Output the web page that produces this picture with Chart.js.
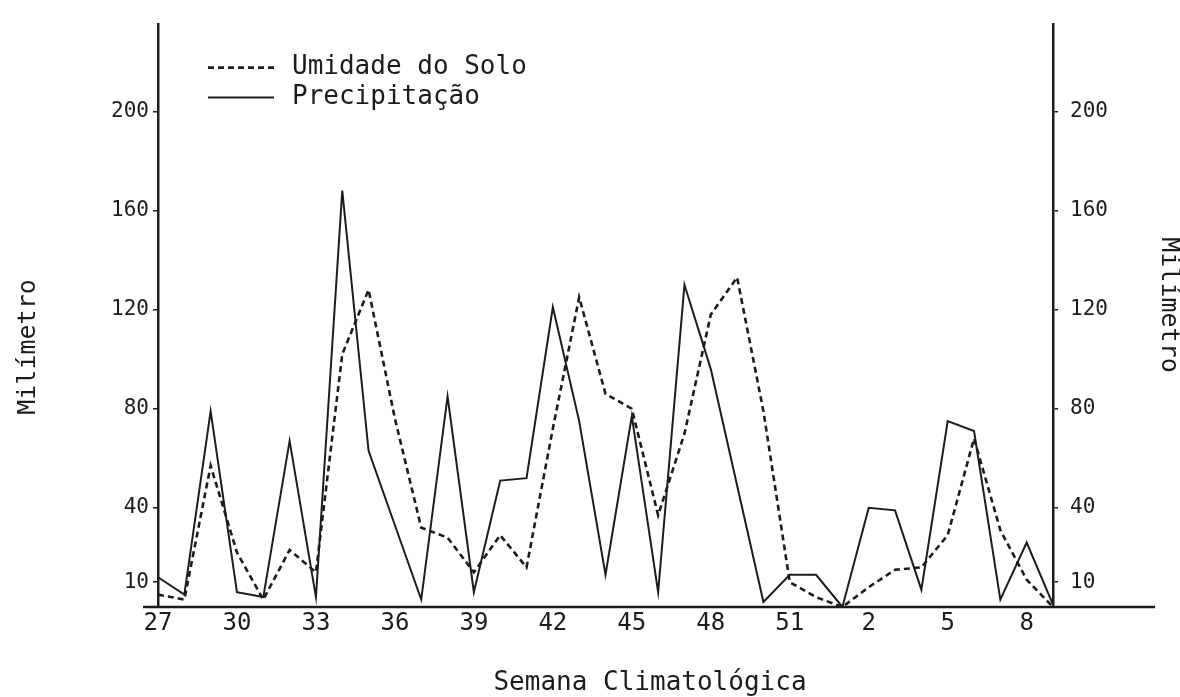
<!DOCTYPE html>
<html>
<head>
<meta charset="utf-8">
<script src="https://cdn.jsdelivr.net/npm/chart.js@4.4.1/dist/chart.umd.min.js"></script>
<style>
  html, body { margin: 0; padding: 0; background: #fff; }
  #wrap { width: 1180px; height: 697px; }
</style>
</head>
<body>
<div id="wrap"><canvas id="chart" width="1180" height="697"></canvas></div>
<script>
// Semanas climatológicas (27..52, 1..9)
const weeks = [27, 28, 29, 30, 31, 32, 33, 34, 35, 36, 37, 38, 39, 40, 41, 42, 43, 44,
  45, 46, 47, 48, 49, 50, 51, 52, 1, 2, 3, 4, 5, 6, 7, 8, 9];

// values, in mm
const precipitacao = [12, 5, 79, 6, 4, 67, 4, 168, 63, 33, 3, 85, 6, 51, 52, 121, 75, 13,
  77, 6, 130, 96, 49, 2, 13, 13, 0, 40, 39, 7, 75, 71, 3, 26, 1];
const umidadeSolo = [5, 3, 57, 22, 3, 23, 14, 102, 128, 76, 32, 28, 14, 29, 16, 72, 125, 86,
  80, 37, 70, 118, 133, 79, 10, 4, 0, 8, 15, 16, 29, 68, 31, 11, 0];

const yTicks = [10, 40, 80, 120, 160, 200];
const xLabelStep = 3;

const INK = '#1c1c1c';
const FONT = '"DejaVu Sans Mono", "Liberation Mono", monospace';

// legend inside the plot area, drawn from the datasets themselves
const innerLegend = {
  id: 'innerLegend',
  afterDraw(chart) {
    const { ctx, chartArea } = chart;
    const x0 = chartArea.left + 50;
    ctx.save();
    ctx.font = '26px ' + FONT;
    ctx.fillStyle = INK;
    ctx.textBaseline = 'middle';
    chart.data.datasets.forEach((ds, i) => {
      const y = chartArea.top + 43 + i * 30;
      ctx.strokeStyle = ds.borderColor;
      ctx.lineWidth = ds.borderWidth;
      ctx.setLineDash(ds.borderDash || []);
      ctx.beginPath();
      ctx.moveTo(x0, y);
      ctx.lineTo(x0 + 66, y);
      ctx.stroke();
      ctx.setLineDash([]);
      ctx.fillText(ds.label, x0 + 84, y);
    });
    ctx.restore();
  }
};

// extended baseline + axis titles as on the original figure
const frame = {
  id: 'frame',
  afterDraw(chart) {
    const { ctx, chartArea } = chart;
    ctx.save();
    ctx.strokeStyle = INK;
    ctx.lineWidth = 2.5;
    ctx.beginPath();
    ctx.moveTo(chartArea.left - 15, chartArea.bottom);
    ctx.lineTo(chartArea.right + 102, chartArea.bottom);
    ctx.stroke();

    ctx.fillStyle = INK;
    ctx.textAlign = 'center';
    ctx.textBaseline = 'middle';
    ctx.font = '26px ' + FONT;
    ctx.fillText('Semana Climatológica', 650, 683);

    ctx.font = '25px ' + FONT;
    ctx.translate(28, 347);
    ctx.rotate(-Math.PI / 2);
    ctx.fillText('Milímetro', 0, 0);
    ctx.restore();

    ctx.save();
    ctx.fillStyle = INK;
    ctx.textAlign = 'center';
    ctx.textBaseline = 'middle';
    ctx.font = '25px ' + FONT;
    ctx.translate(1168, 305);
    ctx.rotate(Math.PI / 2);
    ctx.fillText('Milímetro', 0, 0);
    ctx.restore();
  }
};

const yAxis = (position, width, pad) => ({
  position,
  min: 0,
  max: 235,
  afterBuildTicks: s => { s.ticks = yTicks.map(v => ({ value: v })); },
  afterFit: s => { s.width = width; },
  grid: { drawOnChartArea: false, tickLength: 5, color: INK, lineWidth: 1.5 },
  border: { display: true, color: INK, width: 2.5 },
  ticks: { color: INK, padding: pad, font: { family: FONT, size: 21 } }
});

new Chart(document.getElementById('chart'), {
  type: 'line',
  data: {
    labels: weeks,
    datasets: [
      {
        label: 'Umidade do Solo',
        data: umidadeSolo,
        borderColor: INK,
        borderWidth: 2.6,
        borderDash: [6, 4],
        pointRadius: 0,
        tension: 0,
        yAxisID: 'y'
      },
      {
        label: 'Precipitação',
        data: precipitacao,
        borderColor: INK,
        borderWidth: 2,
        pointRadius: 0,
        tension: 0,
        yAxisID: 'y'
      }
    ]
  },
  options: {
    responsive: false,
    animation: false,
    devicePixelRatio: 1,
    layout: { padding: { top: 15, left: 0, right: 0, bottom: 0 } },
    plugins: {
      legend: { display: false },
      tooltip: { enabled: false }
    },
    scales: {
      x: {
        offset: false,
        afterFit: s => { s.height = 90; },
        grid: { display: false, drawTicks: false, tickLength: 0 },
        border: { display: false },
        ticks: {
          autoSkip: false,
          maxRotation: 0,
          padding: 2,
          color: INK,
          font: { family: FONT, size: 24 },
          callback: (v, i) => (i % xLabelStep === 0 ? weeks[i] : '')
        }
      },
      y: yAxis('left', 158, 4),
      y2: yAxis('right', 127, 12)
    }
  },
  plugins: [innerLegend, frame]
});
</script>
</body>
</html>
